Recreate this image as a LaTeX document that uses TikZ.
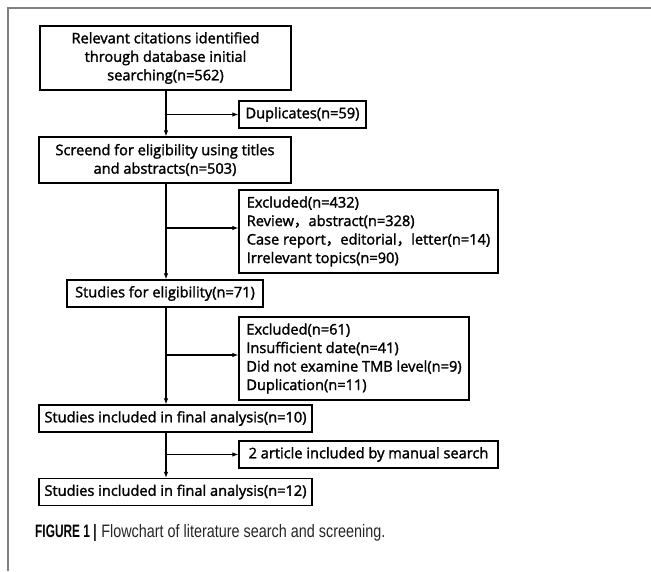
\documentclass[tikz,border=0pt]{standalone}
\usepackage{fontspec}
\setmainfont{Open Sans}
\newfontfamily\boxfont[FakeBold=1.8]{Open Sans}
\newfontfamily\cjk[FakeBold=1.8]{Noto Sans CJK SC}
\newfontfamily\capfont[FakeStretch=0.8]{Liberation Sans}
\newfontfamily\capboldfont[FakeStretch=0.66]{Liberation Sans}
\usetikzlibrary{arrows.meta}

\begin{document}
\begin{tikzpicture}[
		x=1pt, y=-1pt,
		>={Latex[length=6pt, width=4.5pt]},
		box/.style={draw, line width=1.3pt, align=center, inner sep=0pt,
			font=\fontsize{14.6}{18.5}\boxfont},
		sidebox/.style={box, align=left},
		flow/.style={->, line width=1.1pt},
	]
	\useasboundingbox (0,0) rectangle (651,571);
	\draw [gray, line width=1.3pt] (8,571) -- (8,8) -- (651,8);
	\coordinate (spine) at (166,0);
	% main column
	\node[box, minimum width=251pt, minimum height=64pt] (search) at (165.5,58)
		{Relevant citations identified\\through database initial\\searching(n=562)};
	\node[box, minimum width=252pt, minimum height=46pt] (screen) at (165,160)
		{Screend for eligibility using titles\\and abstracts(n=503)};
	\node[box, minimum width=196pt, minimum height=27pt] (elig) at (165,293.5)
		{Studies for eligibility(n=71)};
	\node[box, minimum width=273pt, minimum height=27pt] (final) at (175.5,418.5)
		{Studies included in final analysis(n=10)};
	\node[box, minimum width=273pt, minimum height=27pt] (total) at (175.5,492)
		{Studies included in final analysis(n=12)};
	% side boxes
	\node[box, minimum width=127pt, minimum height=27pt] (dup) at (302.5,114.5)
		{Duplicates(n=59)};
	\node[sidebox, minimum width=259pt, minimum height=83pt] (excl1) at (368.5,231.5)
		{Excluded(n=432)\\
		Review{\cjk ，}abstract(n=328)\\
		Case report{\cjk ，}editorial{\cjk ，}letter(n=14)\\
		Irrelevant topics(n=90)};
	\node[sidebox, minimum width=230pt, minimum height=83pt] (excl2) at (354,358.5)
		{Excluded(n=61)\\
		Insufficient date(n=41)\\
		Did not examine TMB level(n=9)\\
		Duplication(n=11)};
	\node[box, minimum width=259pt, minimum height=27pt] (manual) at (368.5,454.5)
		{2 article included by manual search};
	% arrows
	\draw[flow] (search.south -| spine) -- (screen.north -| spine);
	\draw[flow] (screen.south -| spine) -- (elig.north -| spine);
	\draw[flow] (elig.south -| spine) -- (final.north -| spine);
	\draw[flow] (final.south -| spine) -- (total.north -| spine);
	\draw[flow] (dup.west -| spine) -- (dup.west);
	\draw[flow] ([yshift=3.5pt]excl1.west -| spine) -- ([yshift=3.5pt]excl1.west);
	\draw[flow] ([yshift=3.5pt]excl2.west -| spine) -- ([yshift=3.5pt]excl2.west);
	\draw[flow] (manual.west -| spine) -- (manual.west);
	% caption
	\node[anchor=base west, inner sep=0pt, font=\fontsize{18}{20}\selectfont] (caption) at (35,537)
		{{\capboldfont\bfseries FIGURE 1 |} {\capfont\color{black!85}Flowchart of literature search and screening.}};
\end{tikzpicture}
\end{document}
